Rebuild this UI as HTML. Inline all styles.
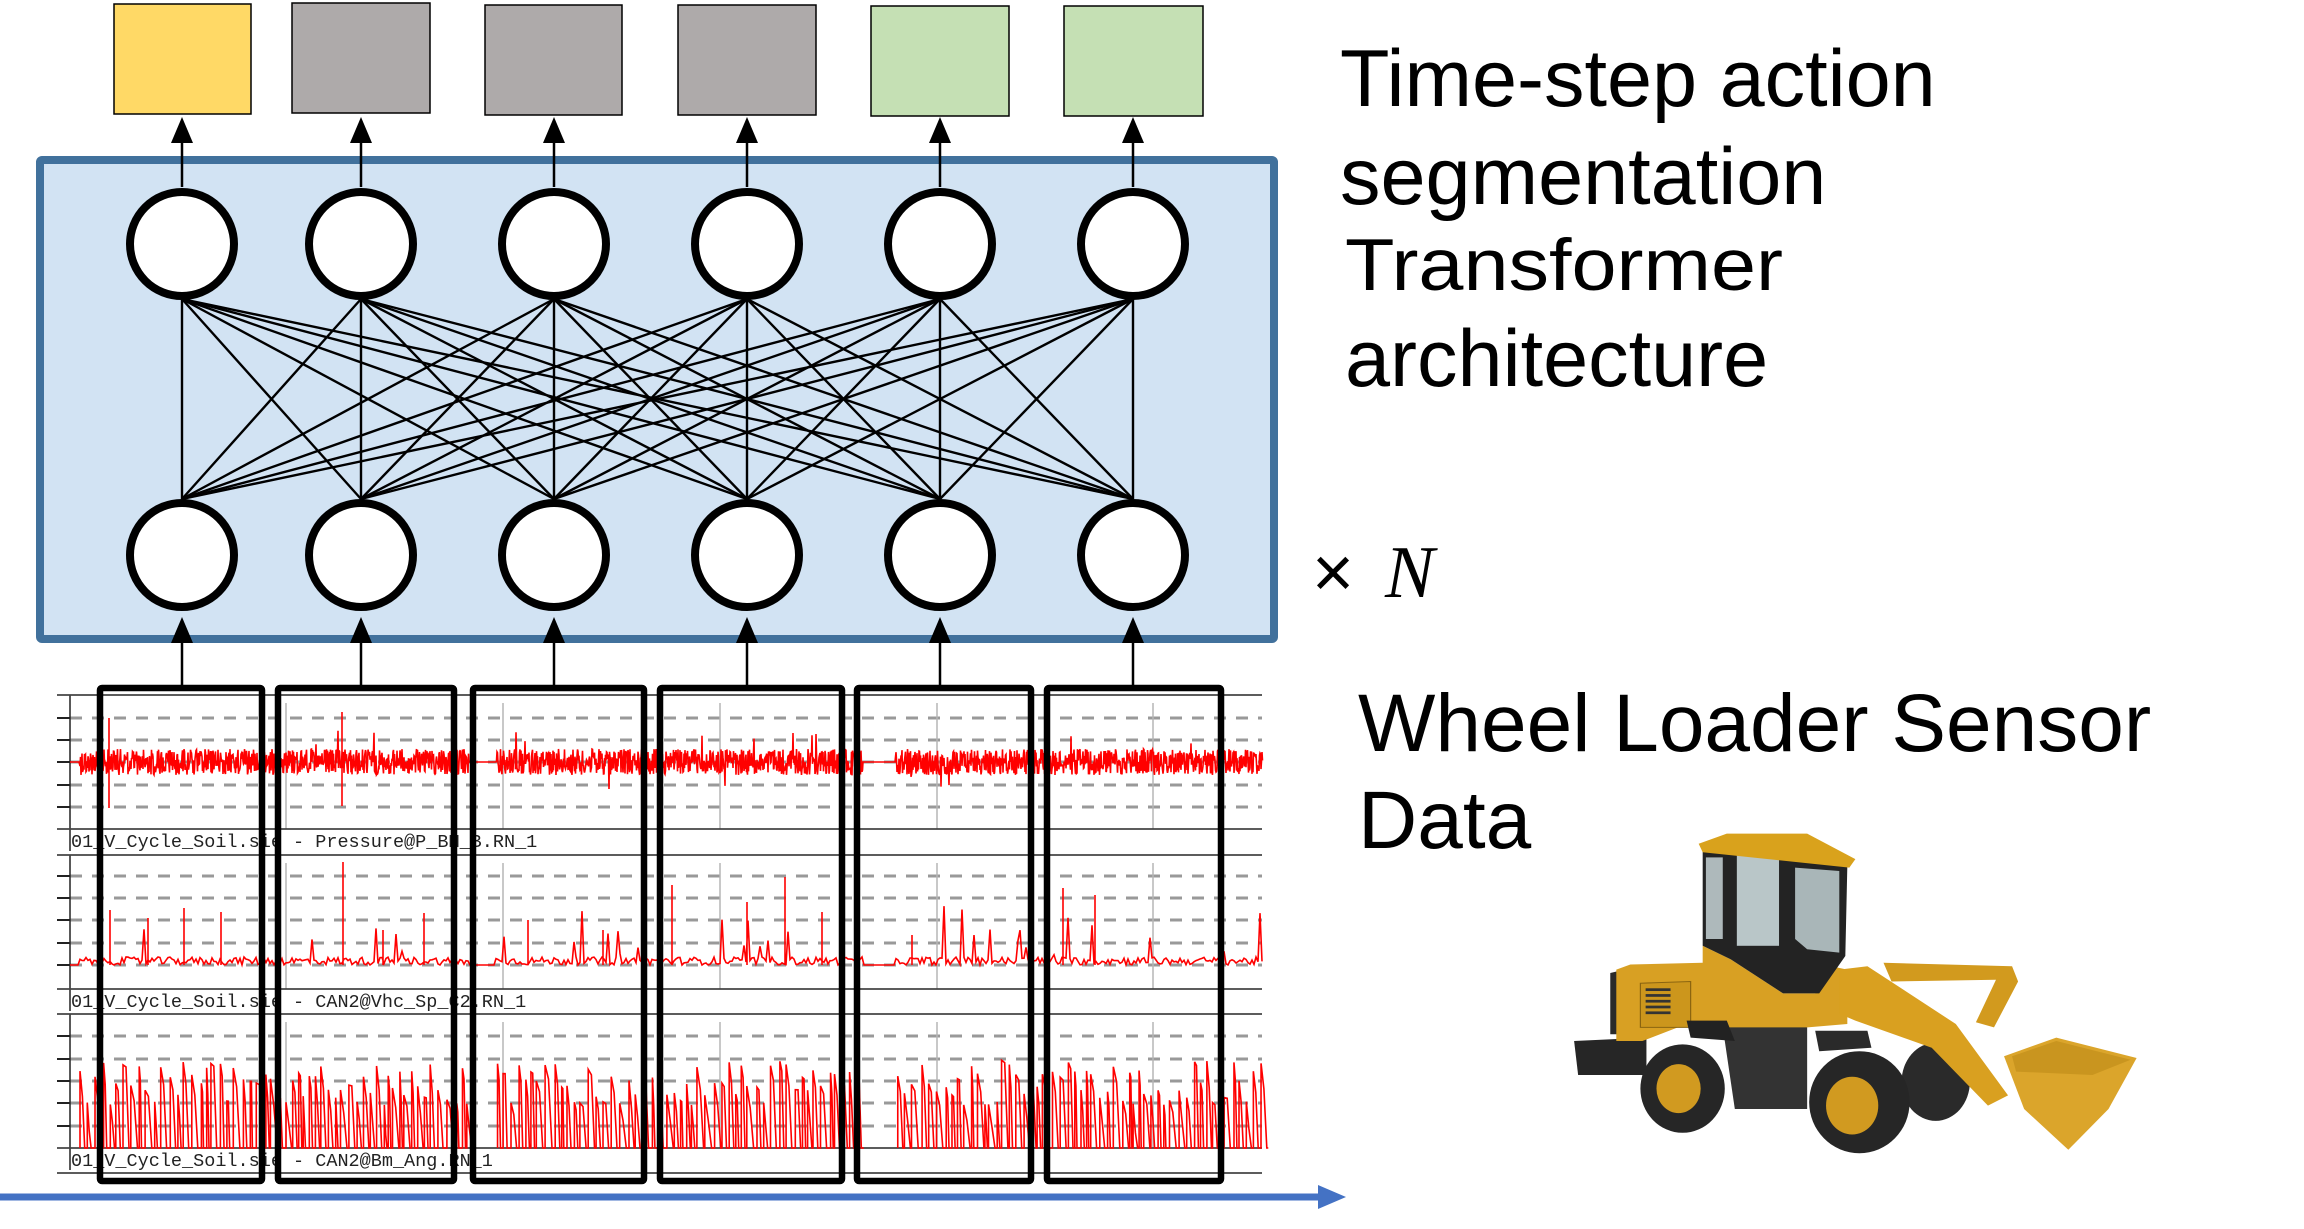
<!DOCTYPE html>
<html><head><meta charset="utf-8"><style>
html,body{margin:0;padding:0;background:#fff;width:2304px;height:1229px;overflow:hidden}
svg{display:block}
.t{font-family:"Liberation Sans",Arial,sans-serif;fill:#000}
.m{font-family:"Liberation Mono",monospace;font-size:18.5px;fill:#222}
</style></head><body>
<svg id="s" width="2304" height="1229" viewBox="0 0 2304 1229" xmlns="http://www.w3.org/2000/svg">
<!-- output boxes -->
<rect x="114" y="4" width="137" height="110" fill="#ffd966" stroke="#000" stroke-width="1.5"/>
<rect x="292" y="3" width="138" height="110" fill="#aeaaaa" stroke="#000" stroke-width="1.5"/>
<rect x="485" y="5" width="137" height="110" fill="#aeaaaa" stroke="#000" stroke-width="1.5"/>
<rect x="678" y="5" width="138" height="110" fill="#aeaaaa" stroke="#000" stroke-width="1.5"/>
<rect x="871" y="6" width="138" height="110" fill="#c5e0b4" stroke="#000" stroke-width="1.5"/>
<rect x="1064" y="6" width="139" height="110" fill="#c5e0b4" stroke="#000" stroke-width="1.5"/>
<!-- transformer block -->
<rect x="40" y="160" width="1234" height="479" fill="#d2e3f3" stroke="#41719c" stroke-width="8" rx="2"/>
<g id="net"></g>
<g id="chart"></g>
<line x1="0" y1="1197" x2="1322" y2="1197" stroke="#4472c4" stroke-width="7"/>
<polygon points="1346,1197 1318,1185 1318,1209" fill="#4472c4"/>
<text class="t" x="1340" y="106" font-size="81">Time-step action</text>
<text class="t" x="1340" y="204" font-size="81">segmentation</text>
<text class="t" x="1345" y="290" font-size="81" transform="translate(0,290) scale(1,0.9) translate(0,-290)">Transformer</text>
<text class="t" x="1345" y="386" font-size="81">architecture</text>
<text class="t" x="1312" y="597" font-size="72">×</text>
<text x="1385" y="597" font-size="74" font-style="italic" font-family="Liberation Serif,serif">N</text>
<text class="t" x="1358" y="751" font-size="82">Wheel Loader Sensor</text>
<text class="t" x="1358" y="848" font-size="82">Data</text>
<g transform="translate(1550,803) scale(0.4018,0.34)">
<polygon points="60,700 240,690 240,800 70,800" fill="#262626"/>
<polygon points="150,500 185,490 185,680 150,680" fill="#2a2a2a"/>
<polygon points="165,490 200,475 380,470 380,420 450,460 580,560 660,560 700,480 740,490 740,650 440,680 340,650 230,700 165,700" fill="#d8a023"/>
<polygon points="225,530 350,525 350,660 225,660" fill="#cc961c" stroke="#8a6410" stroke-width="3"/>
<g fill="#333"><rect x="238" y="545" width="62" height="8"/><rect x="238" y="562" width="62" height="8"/><rect x="238" y="579" width="62" height="8"/><rect x="238" y="596" width="62" height="8"/><rect x="238" y="613" width="62" height="8"/></g>
<polygon points="380,140 600,130 740,185 735,450 670,560 580,560 450,460 380,420" fill="#232323"/>
<rect x="465" y="150" width="105" height="270" fill="#b9c6c8"/>
<rect x="388" y="160" width="42" height="240" fill="#aeb9bb"/>
<polygon points="610,190 720,200 720,440 640,430 610,400" fill="#a9b6b8"/>
<polygon points="370,120 440,90 640,90 760,165 745,190 380,145" fill="#d9a21c"/>
<polygon points="430,660 640,660 640,900 460,900" fill="#333"/>
<polygon points="340,640 440,640 460,700 350,690" fill="#222"/>
<polygon points="660,670 790,670 800,720 670,730" fill="#2a2a2a"/>
<ellipse cx="960" cy="820" rx="85" ry="115" fill="#2a2a2a"/>
<polygon points="720,490 790,480 1010,650 1140,860 1090,890 950,720 760,640 720,620" fill="#d9a020"/>
<polygon points="830,470 1150,480 1165,525 1105,660 1060,645 1110,520 850,525" fill="#d29a1e"/>
<polygon points="1130,745 1260,690 1460,750 1390,900 1290,1020 1180,900" fill="#dba52b"/>
<polygon points="1150,745 1260,700 1445,755 1350,800 1160,790" fill="#c9951f"/>
<ellipse cx="330" cy="840" rx="105" ry="130" fill="#262626"/>
<ellipse cx="320" cy="840" rx="55" ry="72" fill="#d19a20"/>
<ellipse cx="770" cy="880" rx="125" ry="150" fill="#262626"/>
<ellipse cx="752" cy="890" rx="65" ry="85" fill="#d19a20"/>
</g>
</svg>
<script>
(function(){
var NS="http://www.w3.org/2000/svg";
function el(p,n,a){var e=document.createElementNS(NS,n);for(var k in a)e.setAttribute(k,a[k]);p.appendChild(e);return e;}
var xs=[182,361,554,747,940,1133];
var net=document.getElementById('net');
xs.forEach(function(a){xs.forEach(function(b){el(net,'line',{x1:a,y1:299,x2:b,y2:499,stroke:'#000','stroke-width':2.4});});});
xs.forEach(function(x){
 el(net,'circle',{cx:x,cy:244,r:52,fill:'#fff',stroke:'#000','stroke-width':8});
 el(net,'circle',{cx:x,cy:555,r:52,fill:'#fff',stroke:'#000','stroke-width':8});
 el(net,'line',{x1:x,y1:187,x2:x,y2:140,stroke:'#000','stroke-width':2.5});
 el(net,'polygon',{points:x+',117 '+(x-11)+',143 '+(x+11)+',143',fill:'#000'});
 el(net,'line',{x1:x,y1:686,x2:x,y2:640,stroke:'#000','stroke-width':2.5});
 el(net,'polygon',{points:x+',617 '+(x-11)+',643 '+(x+11)+',643',fill:'#000'});
});
var ch=document.getElementById('chart');
var seed=12345;function r(){seed=(seed*1103515245+12345)%2147483648;return seed/2147483648;}
var L=70,R=1262;
var panels=[[695,829],[855,989],[1014,1148]];
var dash=[[718,740,762,785,807],[876,898,920,943,965],[1036,1059,1081,1103,1126]];
panels.forEach(function(p,i){
 dash[i].forEach(function(y){el(ch,'line',{x1:L,y1:y,x2:R,y2:y,stroke:'#999','stroke-width':3,'stroke-dasharray':'12 10'});el(ch,'line',{x1:57,y1:y,x2:L,y2:y,stroke:'#222','stroke-width':2});});
 [286,503,720,937,1153].forEach(function(x){el(ch,'line',{x1:x,y1:p[0]+8,x2:x,y2:p[1],stroke:'#b5b5b5','stroke-width':1.5});});
 el(ch,'line',{x1:L,y1:p[0],x2:L,y2:p[1]+22,stroke:'#222','stroke-width':1.5});
});
[695,829,855,989,1014,1148,1173].forEach(function(y){el(ch,'line',{x1:57,y1:y,x2:R,y2:y,stroke:'#444','stroke-width':1.8});});
var labels=[["Pressure@P_BM_B.RN_1",847],["CAN2@Vhc_Sp_C2.RN_1",1007],["CAN2@Bm_Ang.RN_1",1166]];
labels.forEach(function(l){var t=el(ch,'text',{x:71,y:l[1],'class':'m'});t.textContent="01_V_Cycle_Soil.sie - "+l[0];});
function gap(x){return (x>468&&x<496)||(x>862&&x<896)||x<80;}
var d="M70,762";
for(var x=70;x<=R;x+=1){if(gap(x)){d+=" L"+x+",762";continue;}var a=(r()-0.5)*26,b=(r()-0.5)*26;if(r()<0.03){a=(r()-0.5)*64;}d+=" L"+x+","+(762+a).toFixed(1)+" L"+(x+0.5)+","+(762+b).toFixed(1);}
d+=" M109,718 L109,808 M342,712 L342,806";
el(ch,'path',{d:d,fill:'none',stroke:'#f00','stroke-width':1.6});
d="M70,965";
for(x=70;x<=R;x+=2){if(gap(x)){d+=" L"+x+",965";continue;}var v=965-r()*8;if(r()<0.05)v=965-10-r()*50;d+=" L"+x+","+v.toFixed(1);}
[[110,910],[148,918],[184,908],[221,912],[343,862],[383,930],[424,913],[528,920],[603,930],[672,885],[747,902],[785,877],[822,912],[912,935],[1063,888],[1095,895]].forEach(function(s){d+=" M"+s[0]+",965 L"+s[0]+","+s[1];});
el(ch,'path',{d:d,fill:'none',stroke:'#f00','stroke-width':1.6});
d="";var started=false;
for(x=80;x<=R;){if(gap(x)){x+=2;started=false;continue;}var top=1060+r()*45,w=2+r()*5;
 if(!started){d+=" M"+x+",1148";started=true;}
 d+=" L"+x+","+top.toFixed(1)+" L"+(x+w/2).toFixed(1)+","+(top+r()*30).toFixed(1)+" L"+(x+w).toFixed(1)+",1148";x+=w+1+r()*3;d+=" L"+x.toFixed(1)+",1148";}
el(ch,'path',{d:d,fill:'none',stroke:'#f00','stroke-width':1.6});
[[100,262],[278,454],[473,644],[660,842],[857,1031],[1047,1221]].forEach(function(b){el(ch,'rect',{x:b[0],y:688,width:b[1]-b[0],height:493,fill:'none',stroke:'#000','stroke-width':6.5,rx:2});});
})();
</script>
</body></html>
